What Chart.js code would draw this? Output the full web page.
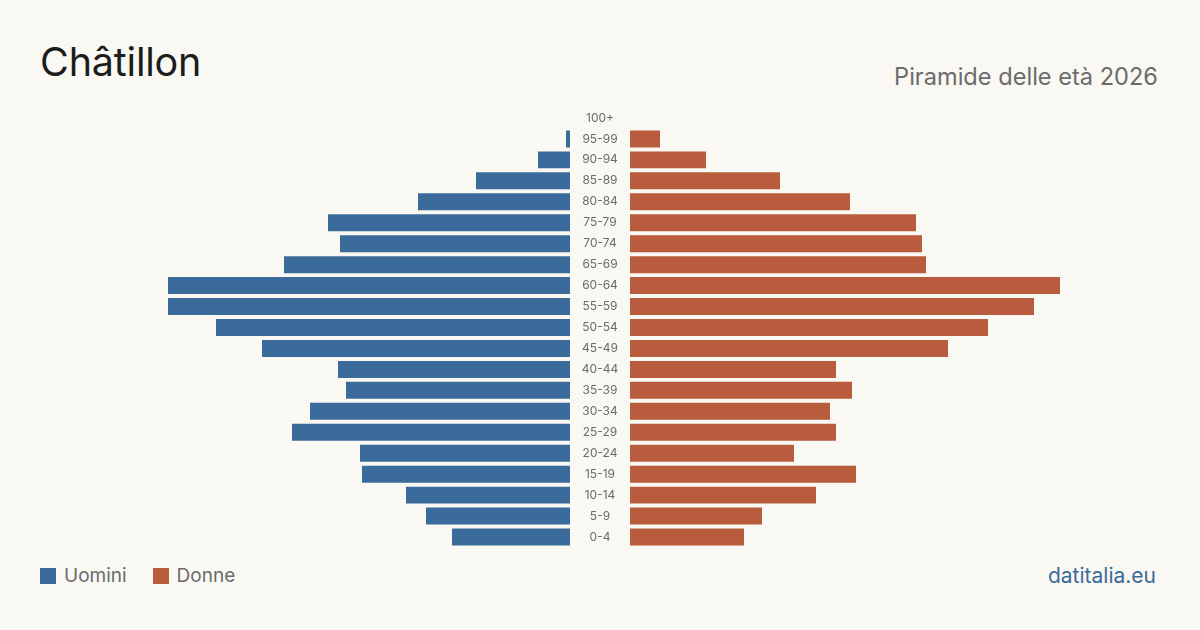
<!DOCTYPE html>
<html>
<head>
<meta charset="utf-8">
<script src="https://cdn.jsdelivr.net/npm/chart.js@4/dist/chart.umd.min.js"></script>
<style>
  html, body { margin: 0; padding: 0; }
  body { width: 1200px; height: 630px; background: #f9f8f3; position: relative; overflow: hidden; font-family: Inter, "Noto Sans", sans-serif; }
  #title { position: absolute; left: 40px; top: 43px; font-size: 39.5px; color: #1c1c1c; line-height: 1; letter-spacing: -0.2px; }
  #subtitle { position: absolute; right: 42px; top: 65px; font-size: 23.6px; color: #6b6b6b; line-height: 1; }
  #legend { position: absolute; left: 40px; top: 565px; font-size: 19px; color: #6b6b6b; line-height: 22px; display: flex; align-items: center; }
  .sw { width: 16px; height: 16px; display: inline-block; margin-right: 8px; }
  .item { display: flex; align-items: center; margin-right: 26px; }
  #source { position: absolute; right: 44px; top: 565px; font-size: 21px; color: #3b6b9b; line-height: 22px; }
  #cl { position: absolute; left: 140px; top: 0; width: 430px; height: 630px; }
  #cr { position: absolute; left: 570px; top: 0; width: 490px; height: 630px; }
</style>
</head>
<body>
<div id="title">Châtillon</div>
<div id="subtitle">Piramide delle età 2026</div>
<div id="legend">
  <span class="item"><span class="sw" style="background:#3b6b9b"></span>Uomini</span>
  <span class="item"><span class="sw" style="background:#b95c3d"></span>Donne</span>
</div>
<div id="source">datitalia.eu</div>
<canvas id="cl" width="430" height="630"></canvas>
<canvas id="cr" width="490" height="630"></canvas>
<script>
const ageGroups = ["100+","95-99","90-94","85-89","80-84","75-79","70-74","65-69","60-64","55-59","50-54","45-49","40-44","35-39","30-34","25-29","20-24","15-19","10-14","5-9","0-4"];
const men   = [0, 2, 16, 47, 76, 121, 115, 143, 201, 201, 177, 154, 116, 112, 130, 139, 105, 104, 82, 72, 59];
const women = [0, 15, 38, 75, 110, 143, 146, 148, 215, 202, 179, 159, 103, 111, 100, 103, 82, 113, 93, 66, 57];
const axisMax = 215;

const BLUE = "#3b6b9b", ORANGE = "#b95c3d";

function baseOptions(reverse, padLeft) {
  return {
    indexAxis: 'y',
    responsive: false,
    animation: false,
    layout: { padding: { top: 107.5, bottom: 82.5, left: padLeft, right: 0 } },
    plugins: { legend: { display: false }, tooltip: { enabled: false } },
    scales: {
      x: { display: false, min: 0, max: axisMax, reverse: reverse },
      y: { display: false, grid: { display: false } }
    }
  };
}

new Chart(document.getElementById('cl'), {
  type: 'bar',
  data: { labels: ageGroups, datasets: [{ data: men, backgroundColor: BLUE, barPercentage: 0.81, categoryPercentage: 1 }] },
  options: baseOptions(true, 0)
});

const labelPlugin = {
  id: 'ageLabels',
  afterDraw(chart) {
    const ctx = chart.ctx;
    const ys = chart.scales.y;
    ctx.save();
    ctx.font = '12px Inter, "Noto Sans", sans-serif';
    ctx.fillStyle = '#6b6b6b';
    ctx.textAlign = 'center';
    ctx.textBaseline = 'middle';
    const cx = chart.chartArea.left - 30;
    chart.data.labels.forEach((lab, i) => {
      ctx.fillText(lab, cx, ys.getPixelForValue(i));
    });
    ctx.restore();
  }
};

new Chart(document.getElementById('cr'), {
  type: 'bar',
  data: { labels: ageGroups, datasets: [{ data: women, backgroundColor: ORANGE, barPercentage: 0.81, categoryPercentage: 1 }] },
  options: baseOptions(false, 60),
  plugins: [labelPlugin]
});
</script>
</body>
</html>
